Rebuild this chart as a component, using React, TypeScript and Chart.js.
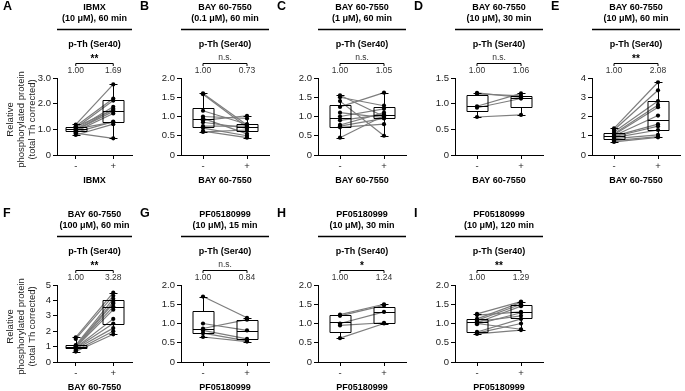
import React, { useEffect, useRef } from 'react';
import { Chart, registerables } from 'chart.js';

Chart.register(...registerables);

const FONT = "'Liberation Sans', Arial, Helvetica, sans-serif";
const LINE_GRAY = '#7d7d7d';

const panelLetters = ['A', 'B', 'C', 'D', 'E', 'F', 'G', 'H', 'I'];
const titleLine1 = ['IBMX', 'BAY 60-7550', 'BAY 60-7550', 'BAY 60-7550', 'BAY 60-7550', 'BAY 60-7550', 'PF05180999', 'PF05180999', 'PF05180999'];
const titleLine2 = ['(10 μM), 60 min', '(0.1 μM), 60 min', '(1 μM), 60 min', '(10 μM), 30 min', '(10 μM), 60 min', '(100 μM), 60 min', '(10 μM), 15 min', '(10 μM), 30 min', '(10 μM), 120 min'];
const proteinLabel = 'p-Th (Ser40)';
const xAxisTitles = ['IBMX', 'BAY 60-7550', 'BAY 60-7550', 'BAY 60-7550', 'BAY 60-7550', 'BAY 60-7550', 'PF05180999', 'PF05180999', 'PF05180999'];
const categories = ['-', '+'];
const sigLabels = ['**', 'n.s.', 'n.s.', 'n.s.', '**', '**', 'n.s.', '*', '**'];
const meanLabels = [
  ['1.00', '1.69'], ['1.00', '0.73'], ['1.00', '1.05'], ['1.00', '1.06'], ['1.00', '2.08'],
  ['1.00', '3.28'], ['1.00', '0.84'], ['1.00', '1.24'], ['1.00', '1.29'],
];
const yAxisTitle = ['Relative', 'phosphorylated protein', '(total Th corrected)'];

const yTicks = [
  [0, 1, 2, 3], [0, 0.5, 1, 1.5, 2], [0, 0.5, 1, 1.5, 2], [0, 0.5, 1, 1.5], [0, 1, 2, 3, 4],
  [0, 1, 2, 3, 4, 5], [0, 0.5, 1, 1.5, 2], [0, 0.5, 1, 1.5, 2], [0, 0.5, 1, 1.5, 2],
];
const yTickLabels = [
  ['0', '1.0', '2.0', '3.0'], ['0', '0.5', '1.0', '1.5', '2.0'], ['0', '0.5', '1.0', '1.5', '2.0'],
  ['0', '0.5', '1.0', '1.5'], ['0', '1', '2', '3', '4'], ['0', '1', '2', '3', '4', '5'],
  ['0', '0.5', '1.0', '1.5', '2.0'], ['0', '0.5', '1.0', '1.5', '2.0'], ['0', '0.5', '1.0', '1.5', '2.0'],
];

// paired values: control (-) and treated (+)
const ctrlA = [1.18, 1.12, 1.05, 1.0, 0.95, 1.1, 0.98, 0.92, 1.02, 0.78, 0.85, 0.88];
const trtA = [2.75, 2.2, 2.12, 1.88, 1.8, 1.75, 1.7, 1.62, 1.28, 1.2, 0.65, 1.3];
const ctrlB = [1.6, 1.58, 1.15, 1.0, 0.95, 0.9, 0.85, 0.75, 0.7, 0.62, 0.6];
const trtB = [0.78, 0.72, 0.8, 0.95, 0.55, 1.02, 0.7, 0.75, 0.5, 0.45, 0.65];
const ctrlC = [1.55, 1.5, 1.4, 1.25, 1.1, 1.0, 0.9, 0.78, 0.75, 0.72, 0.45];
const trtC = [1.0, 1.28, 0.5, 1.62, 0.97, 1.2, 1.05, 1.1, 0.95, 0.8, 1.02];
const ctrlD = [1.21, 1.19, 0.95, 0.92, 0.74];
const trtD = [1.12, 1.15, 1.2, 1.1, 0.78];
const ctrlE = [1.38, 1.3, 1.2, 1.1, 1.05, 1.0, 0.98, 0.95, 0.9, 0.85, 0.75, 0.68];
const trtE = [3.78, 3.36, 2.8, 2.6, 2.48, 2.05, 1.6, 1.5, 1.3, 1.05, 0.95, 0.92];
const ctrlF = [1.6, 1.5, 1.1, 1.05, 1.0, 0.98, 0.95, 0.92, 0.9, 0.85, 0.75, 0.68];
const trtF = [4.5, 4.3, 4.1, 3.9, 3.8, 3.6, 3.4, 2.8, 2.5, 2.2, 2.0, 1.8];
const ctrlG = [1.7, 1.0, 0.87, 0.82, 0.75, 0.65];
const trtG = [1.15, 0.82, 1.1, 0.6, 0.55, 0.53];
const ctrlH = [1.23, 1.2, 1.0, 0.95, 0.62];
const trtH = [1.5, 1.47, 1.3, 1.02, 1.0];
const ctrlI = [1.25, 1.22, 1.12, 1.08, 1.05, 1.02, 1.0, 0.98, 0.78, 0.75, 0.73];
const trtI = [1.57, 1.3, 1.55, 1.5, 1.2, 1.45, 0.85, 1.28, 1.12, 1.0, 0.83];

const controlValues = [ctrlA, ctrlB, ctrlC, ctrlD, ctrlE, ctrlF, ctrlG, ctrlH, ctrlI];
const treatedValues = [trtA, trtB, trtC, trtD, trtE, trtF, trtG, trtH, trtI];

// box stats [min, q1, median, q3, max] for (-) and (+)
const boxA = [[0.78, 0.93, 1.0, 1.1, 1.2], [0.65, 1.28, 1.72, 2.15, 2.75]];
const boxB = [[0.6, 0.72, 0.93, 1.23, 1.6], [0.45, 0.62, 0.73, 0.81, 1.02]];
const boxC = [[0.45, 0.73, 0.95, 1.3, 1.55], [0.5, 0.97, 1.03, 1.25, 1.62]];
const boxD = [[0.74, 0.85, 0.95, 1.17, 1.21], [0.78, 0.94, 1.12, 1.15, 1.2]];
const boxE = [[0.68, 0.85, 0.98, 1.12, 1.38], [0.92, 1.3, 1.82, 2.82, 3.78]];
const boxF = [[0.68, 0.88, 0.97, 1.1, 1.6], [1.8, 2.45, 3.6, 4.05, 4.5]];
const boxG = [[0.65, 0.75, 0.87, 1.32, 1.7], [0.53, 0.6, 0.8, 1.08, 1.15]];
const boxH = [[0.62, 0.78, 1.05, 1.21, 1.23], [1.0, 1.01, 1.29, 1.44, 1.5]];
const boxI = [[0.73, 0.78, 1.03, 1.12, 1.25], [0.83, 1.13, 1.29, 1.49, 1.57]];
const boxStats = [boxA, boxB, boxC, boxD, boxE, boxF, boxG, boxH, boxI];

const CANVAS_W = 137;
const CANVAS_H = 195;
const PLOT_RIGHT = 132;
const Y_AXIS_W = 30;

const hasYTitle = (idx: number) => idx === 0 || idx === 5;

const decorPlugin = {
  id: 'panelDecor',
  afterDatasetsDraw(chart: any, _args: any, opts: any) {
    const idx = opts.idx as number;
    const ctx = chart.ctx;
    const xs = chart.scales.x;
    const ys = chart.scales.y;
    ctx.save();
    ctx.strokeStyle = '#000';
    ctx.lineWidth = 1;
    const hw = 10.5;
    const cap = 4;
    boxStats[idx].forEach((b: number[], g: number) => {
      const cx = Math.round(xs.getPixelForValue(g)) + 0.5;
      const [mn, q1, md, q3, mx] = b.map((v) => Math.round(ys.getPixelForValue(v)) + 0.5);
      ctx.beginPath();
      ctx.rect(cx - hw, q3, 2 * hw, q1 - q3);
      ctx.moveTo(cx - hw, md);
      ctx.lineTo(cx + hw, md);
      ctx.moveTo(cx, q3);
      ctx.lineTo(cx, mx);
      ctx.moveTo(cx - cap, mx);
      ctx.lineTo(cx + cap, mx);
      ctx.moveTo(cx, q1);
      ctx.lineTo(cx, mn);
      ctx.moveTo(cx - cap, mn);
      ctx.lineTo(cx + cap, mn);
      ctx.stroke();
    });
    ctx.restore();
  },
  afterDraw(chart: any, _args: any, opts: any) {
    const idx = opts.idx as number;
    const ctx = chart.ctx;
    const { left, right, top, bottom } = chart.chartArea;
    const xs = chart.scales.x;
    const cx = (left + right) / 2;
    ctx.save();
    ctx.fillStyle = '#000';
    ctx.textBaseline = 'middle';
    ctx.textAlign = 'left';
    ctx.font = `bold 12.5px ${FONT}`;
    ctx.fillText(panelLetters[idx], 3, 7);

    ctx.textAlign = 'center';
    ctx.font = `bold 9px ${FONT}`;
    ctx.fillText(titleLine1[idx], cx, 8);
    ctx.fillText(titleLine2[idx], cx, 19);
    ctx.strokeStyle = '#000';
    ctx.lineWidth = 1.4;
    ctx.beginPath();
    ctx.moveTo(left, 29.5);
    ctx.lineTo(right, 29.5);
    ctx.stroke();
    ctx.fillText(proteinLabel, cx, 45);

    const x0 = xs.getPixelForValue(0);
    const x1 = xs.getPixelForValue(1);
    ctx.lineWidth = 1;
    ctx.beginPath();
    ctx.moveTo(x0, 66);
    ctx.lineTo(x0, 63.5);
    ctx.lineTo(x1, 63.5);
    ctx.lineTo(x1, 66);
    ctx.stroke();
    const sig = sigLabels[idx];
    if (sig === 'n.s.') {
      ctx.font = `8.5px ${FONT}`;
      ctx.fillStyle = '#333';
      ctx.fillText(sig, (x0 + x1) / 2, 58);
    } else {
      ctx.font = `bold 10px ${FONT}`;
      ctx.fillStyle = '#000';
      ctx.fillText(sig, (x0 + x1) / 2, 59);
    }
    ctx.font = `8.5px ${FONT}`;
    ctx.fillStyle = '#333';
    ctx.fillText(meanLabels[idx][0], x0, 71);
    ctx.fillText(meanLabels[idx][1], x1, 71);

    if (hasYTitle(idx)) {
      ctx.fillStyle = '#222';
      ctx.font = `9.5px ${FONT}`;
      const cy = (top + bottom) / 2 + 3;
      yAxisTitle.forEach((line, k) => {
        ctx.save();
        ctx.translate(10 + k * 11, cy);
        ctx.rotate(-Math.PI / 2);
        ctx.fillText(line, 0, 0);
        ctx.restore();
      });
    }
    ctx.restore();
  },
};

function Panel({ idx, left, top }: { idx: number; left: number; top: number }) {
  const ref = useRef<HTMLCanvasElement>(null);
  useEffect(() => {
    const canvas = ref.current;
    if (!canvas) return;
    const ctrl = controlValues[idx];
    const trt = treatedValues[idx];
    const lineSets = ctrl.map((c, k) => ({
      data: [c, trt[k]],
      borderColor: LINE_GRAY,
      borderWidth: 1.2,
      pointRadius: 0,
      fill: false,
      tension: 0,
      order: 2,
    }));
    const pointSets = ctrl.map((c, k) => ({
      data: [c, trt[k]],
      showLine: false,
      pointRadius: 2.1,
      pointBackgroundColor: '#000',
      pointBorderWidth: 0,
      order: 0,
    }));
    const axisLeft = hasYTitle(idx) ? 57 : 44;
    const tickFont = { family: FONT, size: 9.5 };
    const chart = new Chart(canvas, {
      type: 'line',
      data: { labels: categories, datasets: [...lineSets, ...pointSets] as any },
      options: {
        animation: false,
        responsive: false,
        devicePixelRatio: 1,
        layout: { padding: { left: axisLeft - Y_AXIS_W, top: 78, right: CANVAS_W - PLOT_RIGHT, bottom: 2 } },
        plugins: {
          legend: { display: false },
          tooltip: { enabled: false },
          panelDecor: { idx },
        } as any,
        scales: {
          x: {
            type: 'category',
            offset: true,
            grid: { display: true, drawOnChartArea: false, drawTicks: true, tickLength: 4, color: '#000', lineWidth: 1 },
            border: { display: true, color: '#000', width: 1 },
            ticks: { color: '#222', font: tickFont, padding: 2, maxRotation: 0 },
            title: {
              display: true,
              text: xAxisTitles[idx],
              color: '#000',
              font: { family: FONT, size: 9, weight: 'bold' },
              padding: { top: 0, bottom: 7 },
            },
            afterFit: (s: any) => {
              s.height = 38;
            },
          } as any,
          y: {
            min: 0,
            max: yTicks[idx][yTicks[idx].length - 1],
            afterBuildTicks: (s: any) => {
              s.ticks = yTicks[idx].map((v) => ({ value: v }));
            },
            grid: { display: true, drawOnChartArea: false, drawTicks: true, tickLength: 4, color: '#000', lineWidth: 1 },
            border: { display: true, color: '#000', width: 1 },
            ticks: {
              color: '#222',
              font: tickFont,
              padding: 2,
              callback: (_v: any, i: number) => yTickLabels[idx][i],
            },
            afterFit: (s: any) => {
              s.width = Y_AXIS_W;
            },
          } as any,
        },
      },
      plugins: [decorPlugin as any],
    });
    return () => chart.destroy();
  }, [idx]);
  return (
    <canvas
      ref={ref}
      width={CANVAS_W}
      height={CANVAS_H}
      style={{ position: 'absolute', left, top, width: CANVAS_W, height: CANVAS_H }}
    />
  );
}

export default function App() {
  const panels = panelLetters.map((_, idx) => {
    const row = idx < 5 ? 0 : 1;
    const col = idx < 5 ? idx : idx - 5;
    return <Panel key={idx} idx={idx} left={col * 137} top={row * 207} />;
  });
  return (
    <div style={{ position: 'absolute', left: 0, top: 0, width: 685, height: 391, background: '#fff', overflow: 'hidden' }}>
      {panels}
    </div>
  );
}
